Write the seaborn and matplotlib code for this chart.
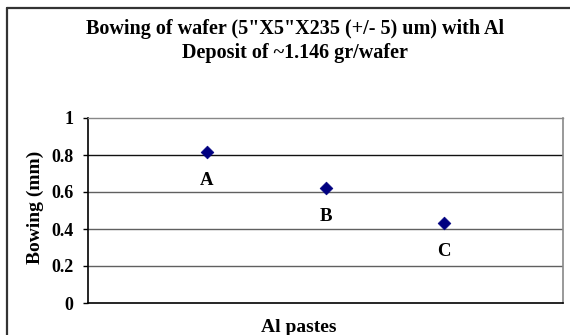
import matplotlib
matplotlib.use("Agg")
import matplotlib.pyplot as plt
import seaborn as sns
import pandas as pd
from matplotlib.lines import Line2D

categories = ["A", "B", "C"]
positions = [1, 2, 3]
bowing = [0.816, 0.62, 0.432]
yticks = [0, 0.2, 0.4, 0.6, 0.8, 1]
ytick_labels = ["0", "0.2", "0.4", "0.6", "0.8", "1"]

df = pd.DataFrame({"pos": positions, "bowing": bowing, "paste": categories})

sns.set_theme(style="white")
plt.rcParams['font.family'] = ['Liberation Serif', 'DejaVu Serif']
plt.rcParams['text.color'] = 'black'

W, H = 570, 335
fig = plt.figure(figsize=(W / 100, H / 100), dpi=100)
fig.patch.set_facecolor("white")

l, r, t, b = 88, 563, 118, 303
ax = fig.add_axes([l / W, 1 - b / H, (r - l) / W, (b - t) / H])
ax.set_facecolor("white")

sns.scatterplot(data=df, x="pos", y="bowing", marker="D", s=42, color="#000080",
                edgecolor="#000080", linewidth=0.5, ax=ax, zorder=3, legend=False)

for p, v, c in zip(positions, bowing, categories):
    ax.annotate(c, (p, v), xytext=(0, -33), textcoords="offset pixels",
                ha="center", va="baseline", fontsize=13.5, fontweight="bold", color="black")

ax.set_xlim(0, 4)
ax.set_ylim(0, 1)
ax.set_xticks([])
ax.set_yticks(yticks)
ax.set_yticklabels(ytick_labels, fontsize=13, fontweight="bold")
ax.tick_params(axis="y", which="major", left=True, length=3.6, width=1, color="black",
               pad=7, labelcolor="black")
grid_colors = {0.2: "#606060", 0.4: "#606060", 0.6: "#606060", 0.8: "#111111"}
for y in yticks[1:-1]:
    ax.axhline(y, color=grid_colors[y], lw=1, zorder=1)
ax.spines["left"].set_color("black")
ax.spines["left"].set_linewidth(1.2)
ax.spines["bottom"].set_color("black")
ax.spines["bottom"].set_linewidth(1.2)
ax.spines["top"].set_color("#888888")
ax.spines["right"].set_color("#888888")
ax.spines["right"].set_linewidth(1.2)
ax.spines["top"].set_linewidth(1.0)

ax.set_xlabel("")
ax.set_ylabel("")
fig.text(35.5 / W, 1 - 207 / H, "Bowing (mm)", rotation=90, ha="center", va="center",
         fontsize=14, fontweight="bold", color="black")
fig.text(299 / W, 1 - 332 / H, "Al pastes", ha="center", va="baseline",
         fontsize=14, fontweight="bold", color="black")
fig.text(295 / W, 1 - 34 / H, "Bowing of wafer (5\"X5\"X235 (+/- 5) um) with Al",
         ha="center", va="baseline", fontsize=14.5, fontweight="bold", color="black")
fig.text(295 / W, 1 - 58 / H, "Deposit of ~1.146 gr/wafer",
         ha="center", va="baseline", fontsize=14.5, fontweight="bold", color="black")

fig.add_artist(Line2D([7 / W, 7 / W], [1 - 8 / H, 0], transform=fig.transFigure, color="#333333", lw=1.6))
fig.add_artist(Line2D([7 / W, 1], [1 - 8 / H, 1 - 8 / H], transform=fig.transFigure, color="#333333", lw=1.6))

fig.savefig("out.png", dpi=100)
